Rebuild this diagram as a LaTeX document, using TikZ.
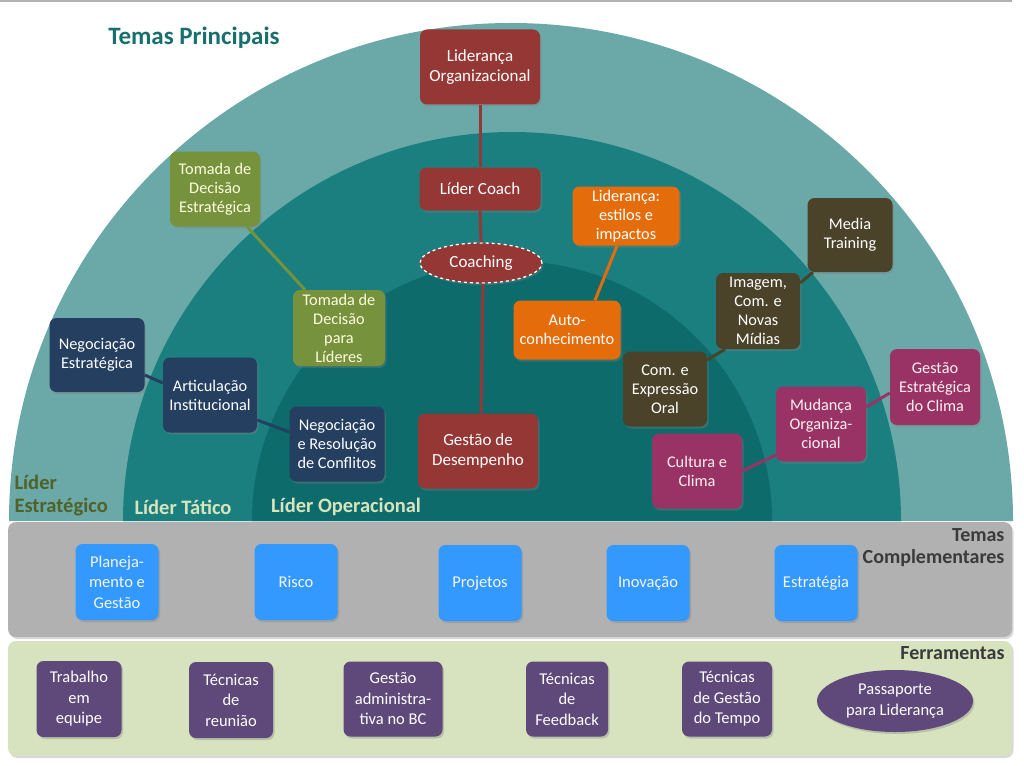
\documentclass[tikz,border=0pt]{standalone}
\usepackage{fontspec}
\setmainfont{Carlito}
\usetikzlibrary{shapes.geometric,shadows}
\definecolor{cOuter}{HTML}{6BA9A9}
\definecolor{cMid}{HTML}{1B7F7F}
\definecolor{cInner}{HTML}{0E6B6B}
\definecolor{cRed}{HTML}{953735}
\definecolor{cOlive}{HTML}{76923C}
\definecolor{cNavy}{HTML}{243F60}
\definecolor{cOrange}{HTML}{E46C0A}
\definecolor{cBrown}{HTML}{4A4329}
\definecolor{cMag}{HTML}{993366}
\definecolor{cBlue}{HTML}{3399FF}
\definecolor{cPurple}{HTML}{5F497A}
\definecolor{cGray}{HTML}{B1B1B1}
\definecolor{cGreen}{HTML}{D7E3BF}
\definecolor{cTitle}{HTML}{17706E}
\definecolor{cLabOlive}{HTML}{4F6228}
\definecolor{cLabLight}{HTML}{D7E4BD}
\definecolor{cBandText}{HTML}{3A3A3A}
\newcommand\nfont{\fontsize{16.3}{19}\selectfont}
\newcommand\rfont{\fontsize{17}{20}\selectfont}
\newcommand\bfont{\fontsize{16.5}{20.5}\selectfont}
\newcommand\lfont{\fontsize{20.5}{23}\selectfont\bfseries}
\tikzset{
  box/.style={rounded corners=7pt, align=center, inner sep=2pt, font=\nfont,
    drop shadow={opacity=0.35, shadow xshift=1.5pt, shadow yshift=-2pt}},
  rbox/.style={box, fill=cRed, text=white, font=\rfont},
  obox/.style={box, fill=cOlive, text=yellow!12!white},
  nbox/.style={box, fill=cNavy, text=white},
  orbox/.style={box, fill=cOrange, text=white},
  bbox/.style={box, fill=cBrown, text=white},
  mbox/.style={box, fill=cMag, text=red!6!white},
  blbox/.style={box, fill=cBlue, text=blue!4!white, font=\bfont},
  pbox/.style={box, fill=cPurple, text=white, font=\bfont},
  sz/.style 2 args={minimum width=#1pt, minimum height=#2pt},
  link/.style={line width=3pt},
  band/.style={rounded corners=8pt, drop shadow={opacity=0.3, shadow xshift=1.5pt, shadow yshift=-2pt}},
}
\begin{document}
\begin{tikzpicture}[x=1pt, y=-1pt]
\useasboundingbox (0,0) rectangle (1024,765);
\fill[white] (0,0) rectangle (1024,765);
\draw[gray!60, line width=1.5pt] (0,1) -- (1012,1);
% arcs
\fill[cOuter] (9,521) arc[start angle=-180, end angle=0, x radius=502, y radius=498] -- cycle;
\fill[cMid] (123,521) arc[start angle=-180, end angle=0, radius=389] -- cycle;
\fill[cInner] (252,521) arc[start angle=-180, end angle=0, radius=260] -- cycle;
% bands
\fill[band, cGray] (8,522) rectangle (1012,637);
\fill[band, cGreen] (8,641) rectangle (1012,756);
% labels
\node[font=\fontsize{25}{29}\selectfont\bfseries, text=cTitle] (title) at (194,38) {Temas Principais};
\node[font=\lfont, text=cLabOlive, align=left, anchor=west] (lest) at (11,496) {Líder\\Estratégico};
\node[font=\lfont, text=cLabLight] (ltat) at (183,507) {Líder Tático};
\node[font=\lfont, text=cLabLight] (lop) at (346,507) {Líder Operacional};
\node[font=\fontsize{20}{22}\selectfont\bfseries, text=cBandText, align=right, anchor=east] (tc) at (1008,548) {Temas\\Complementares};
\node[font=\fontsize{20}{22}\selectfont\bfseries, text=cBandText, anchor=east] (fer) at (1008,653) {Ferramentas};
% red column
\node[rbox, sz={120}{75}] (lo) at (480,67) {Liderança\\Organizacional};
\node[rbox, sz={121}{43}] (lc) at (480,189) {Líder Coach};
\node[ellipse, fill=cRed, draw=white, dashed, line width=1.3pt, text=white, font=\rfont,
      minimum width=122pt, minimum height=40pt, inner sep=0pt,
      drop shadow={opacity=0.35, shadow xshift=1.5pt, shadow yshift=-2pt}] (co) at (481,263) {Coaching};
\node[rbox, sz={120}{75}] (gd) at (478,451) {Gestão de\\Desempenho};
% olive
\node[obox, sz={90}{75}] (tde) at (215,189) {Tomada de\\Decisão\\Estratégica};
\node[obox, sz={92}{76}] (tdl) at (339,328) {Tomada de\\Decisão\\para\\Líderes};
% navy
\node[nbox, sz={95}{74}] (ne) at (97,355) {Negociação\\Estratégica};
\node[nbox, sz={94}{75}] (ai) at (210,395) {Articulação\\Institucional};
\node[nbox, sz={95}{75}] (nrc) at (337,444) {Negociação\\e Resolução\\de Conflitos};
% orange
\node[orbox, sz={107}{59}] (lei) at (626,216) {Liderança:\\estilos e\\impactos};
\node[orbox, sz={107}{59}] (auto) at (567,330) {Auto-\\conhecimento};
% brown
\node[bbox, sz={85}{74}] (mt) at (850,235) {Media\\Training};
\node[bbox, sz={84}{76}] (im) at (758,311) {Imagem,\\Com. e\\Novas\\Mídias};
\node[bbox, sz={84}{75}] (ceo) at (665,389) {Com. e\\Expressão\\Oral};
% magenta
\node[mbox, sz={90}{76}] (gec) at (935,387) {Gestão\\Estratégica\\do Clima};
\node[mbox, sz={90}{75}] (mo) at (821,424) {Mudança\\Organiza-\\cional};
\node[mbox, sz={90}{75}] (cc) at (697,471) {Cultura e\\Clima};
% blue
\node[blbox, sz={83}{76}] (pg) at (117,582) {Planeja-\\mento e\\Gestão};
\node[blbox, sz={83}{76}] (ri) at (296,582) {Risco};
\node[blbox, sz={83}{76}] (pr) at (480,583) {Projetos};
\node[blbox, sz={83}{76}] (in) at (648,583) {Inovação};
\node[blbox, sz={83}{76}] (es) at (816,583) {Estratégia};
% purple
\node[pbox, sz={85}{76}] (te) at (79,699) {Trabalho\\em\\equipe};
\node[pbox, sz={84}{76}] (tr) at (231,700) {Técnicas\\de\\reunião};
\node[pbox, sz={99}{75}] (ga) at (393,699) {Gestão\\administra-\\tiva no BC};
\node[pbox, sz={82}{75}] (tf) at (567,699) {Técnicas\\de\\Feedback};
\node[pbox, sz={90}{75}] (tg) at (727,699) {Técnicas\\de Gestão\\do Tempo};
\node[ellipse, fill=cPurple, text=white, font=\bfont, align=center, inner sep=0pt,
      minimum width=156pt, minimum height=62pt,
      drop shadow={opacity=0.35, shadow xshift=1.5pt, shadow yshift=-2pt}] (pl) at (895,701) {Passaporte\\para Liderança};
% connectors
\draw[link, cRed] (lo.south) -- (lc.north);
\draw[link, cRed] (lc.south) -- (co.north);
\draw[link, cRed] ([xshift=2pt]co.south) -- ([xshift=3pt]gd.north);
\draw[link, cOlive] ([xshift=32pt]tde.south) -- ([xshift=-34pt]tdl.north);
\draw[link, cNavy] ([yshift=-20pt]ne.east) -- ([yshift=12pt]ai.west);
\draw[link, cNavy] ([yshift=-25pt]ai.east) -- ([yshift=12pt]nrc.west);
\draw[link, cOrange] ([xshift=-9pt]lei.south) -- ([xshift=28pt]auto.north);
\draw[link, cBrown] ([xshift=-37pt]mt.south) -- ([yshift=28pt]im.east);
\draw[link, cBrown] ([xshift=-33pt]im.south) -- ([yshift=29pt]ceo.east);
\draw[link, cMag] ([yshift=-6pt]gec.west) -- ([yshift=17pt]mo.east);
\draw[link, cMag] ([yshift=-31pt]mo.west) -- (cc.east);
\end{tikzpicture}
\end{document}
